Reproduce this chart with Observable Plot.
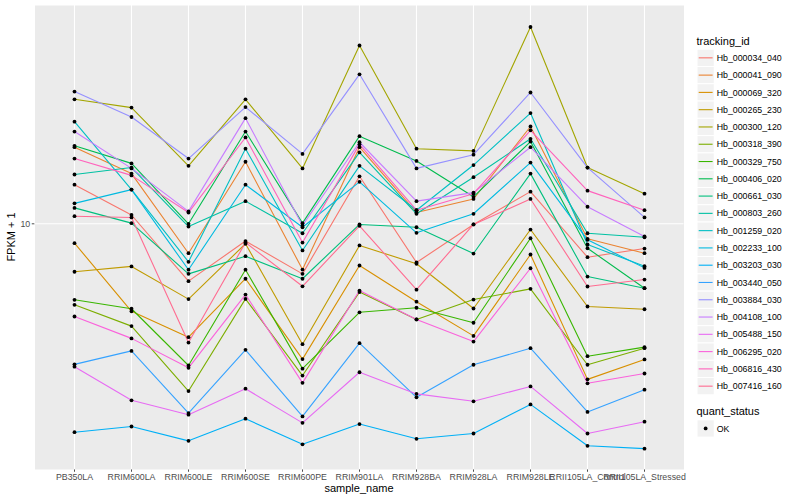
<!DOCTYPE html>
<html><head><meta charset="utf-8">
<script src="https://cdn.jsdelivr.net/npm/d3@7"></script>
<script src="https://cdn.jsdelivr.net/npm/@observablehq/plot@0.6"></script>
<style>
body{margin:0;background:#fff;font-family:"Liberation Sans",Arial,sans-serif;}
#wrap{position:relative;width:800px;height:500px;overflow:hidden;}
#chart{position:absolute;left:0;top:0;}
#legend{position:absolute;left:690px;top:0;}
</style></head><body>
<div id="wrap"><div id="chart"></div><div id="legend"></div></div>
<script>
const samples = ["PB350LA","RRIM600LA","RRIM600LE","RRIM600SE","RRIM600PE","RRIM901LA","RRIM928BA","RRIM928LA","RRIM928LE","RRII105LA_Control","RRII105LA_Stressed"];
const trackingIds = ["Hb_000034_040","Hb_000041_090","Hb_000069_320","Hb_000265_230","Hb_000300_120","Hb_000318_390","Hb_000329_750","Hb_000406_020","Hb_000661_030","Hb_000803_260","Hb_001259_020","Hb_002233_100","Hb_003203_030","Hb_003440_050","Hb_003884_030","Hb_004108_100","Hb_005488_150","Hb_006295_020","Hb_006816_430","Hb_007416_160"];
const colors = ["#F8766D","#EA8331","#D89000","#C09B00","#A3A500","#7CAE00","#39B600","#00BB4E","#00BF7D","#00C1A3","#00BFC4","#00BAE0","#00B0F6","#35A2FF","#9590FF","#C77CFF","#E76BF3","#FA62DB","#FF62BC","#FF6C91"];

// FPKM + 1 per sample (same order as samples)
const Hb_000034_040 = [13.5, 10.7, 6.44, 8.76, 6.81, 14.4, 7.43, 9.95, 12.8, 7.74, 8.27];
const Hb_000041_090 = [18.0, 14.7, 7.98, 16.1, 7.04, 18.0, 10.9, 12.1, 21.1, 8.91, 7.98];
const Hb_000069_320 = [8.62, 5.11, 4.19, 6.56, 3.54, 7.26, 5.50, 4.23, 7.90, 3.03, 3.53];
const Hb_000265_230 = [6.92, 7.21, 5.61, 8.58, 3.97, 8.47, 7.36, 5.22, 9.57, 5.30, 5.19];
const Hb_000300_120 = [26.0, 24.4, 15.6, 26.0, 15.3, 39.3, 17.8, 17.5, 45.3, 15.4, 12.6];
const Hb_000318_390 = [5.37, 4.56, 2.77, 5.62, 3.12, 5.92, 4.80, 5.59, 6.07, 3.39, 3.85];
const Hb_000329_750 = [5.58, 5.21, 3.37, 7.03, 3.29, 5.07, 5.25, 4.68, 8.95, 3.62, 3.88];
const Hb_000406_020 = [18.2, 15.9, 10.0, 20.3, 10.05, 19.6, 16.2, 12.3, 18.8, 8.29, 6.10];
const Hb_000661_030 = [11.3, 10.05, 6.81, 7.80, 6.56, 9.95, 9.74, 7.96, 14.7, 6.67, 6.10];
const Hb_000803_260 = [14.6, 15.4, 9.79, 11.9, 9.30, 17.3, 10.8, 14.3, 19.2, 9.30, 9.02];
const Hb_001259_020 = [21.9, 13.0, 7.47, 17.8, 8.15, 15.6, 11.1, 15.7, 23.4, 8.53, 7.22];
const Hb_002233_100 = [11.7, 13.0, 7.03, 13.5, 9.74, 13.8, 9.33, 10.8, 16.0, 8.84, 7.13];
const Hb_003203_030 = [2.02, 2.11, 1.89, 2.24, 1.84, 2.15, 1.92, 2.00, 2.50, 1.82, 1.78];
const Hb_003440_050 = [3.40, 3.77, 2.34, 3.80, 2.28, 4.00, 2.64, 3.39, 3.85, 2.36, 2.80];
const Hb_003884_030 = [27.6, 22.7, 16.5, 24.5, 17.1, 31.5, 15.3, 17.0, 27.4, 15.4, 10.5];
const Hb_004108_100 = [20.3, 15.3, 11.0, 22.5, 9.87, 18.7, 11.9, 12.7, 18.0, 11.4, 9.07];
const Hb_005488_150 = [3.34, 2.58, 2.31, 2.82, 2.17, 3.20, 2.71, 2.56, 2.87, 2.00, 2.19];
const Hb_006295_020 = [4.91, 4.15, 3.31, 5.81, 2.95, 5.99, 4.80, 4.05, 7.11, 2.94, 3.17];
const Hb_006816_430 = [16.5, 14.5, 10.9, 19.4, 8.66, 18.4, 11.1, 12.6, 20.5, 12.9, 11.1];
const Hb_007416_160 = [10.6, 10.5, 4.02, 8.66, 6.19, 9.85, 6.03, 9.95, 12.1, 6.18, 6.52];

const yTicks = [10];
const series = [Hb_000034_040,Hb_000041_090,Hb_000069_320,Hb_000265_230,Hb_000300_120,Hb_000318_390,Hb_000329_750,Hb_000406_020,Hb_000661_030,Hb_000803_260,Hb_001259_020,Hb_002233_100,Hb_003203_030,Hb_003440_050,Hb_003884_030,Hb_004108_100,Hb_005488_150,Hb_006295_020,Hb_006816_430,Hb_007416_160];

const data = [];
trackingIds.forEach((id, i) => series[i].forEach((v, j) => data.push({tracking_id: id, sample_name: samples[j], fpkm: v, quant_status: "OK"})));

const font = "'Liberation Sans', Arial, Helvetica, sans-serif";
const chart = Plot.plot({
  width: 690, height: 500,
  marginLeft: 34.5, marginRight: 6.5, marginTop: 5, marginBottom: 31,
  style: {fontFamily: font, fontSize: "8.8px", color: "#4D4D4D", background: "#fff", overflow: "visible"},
  x: {type: "point", domain: samples, padding: 0.6, label: null, tickSize: 2.75, tickPadding: 1.5},
  y: {type: "log", domain: [1.517, 53.42], ticks: yTicks, tickFormat: d => String(d), label: null, tickSize: 2.75, tickPadding: 2},
  color: {domain: trackingIds, range: colors},
  marks: [
    Plot.frame({fill: "#EBEBEB", stroke: null}),
    Plot.gridX(samples, {stroke: "#fff", strokeOpacity: 1, strokeWidth: 1.1}),
    Plot.gridY(yTicks, {stroke: "#fff", strokeOpacity: 1, strokeWidth: 1.1}),
    Plot.line(data, {x: "sample_name", y: "fpkm", z: "tracking_id", stroke: "tracking_id", strokeWidth: 1.1}),
    Plot.dot(data, {x: "sample_name", y: "fpkm", fill: "#000", stroke: null, r: 1.9})
  ]
});
document.getElementById("chart").appendChild(chart);

const svg = d3.select(chart);
svg.append("text").attr("x", 359).attr("y", 492).attr("text-anchor", "middle")
  .attr("font-family", font).attr("font-size", 11).attr("fill", "#000").text("sample_name");
svg.append("text").attr("transform", "translate(15,237) rotate(-90)").attr("text-anchor", "middle")
  .attr("font-family", font).attr("font-size", 11).attr("fill", "#000").text("FPKM + 1");

// Legend
const leg = d3.select("#legend").append("svg").attr("width", 110).attr("height", 500)
  .attr("font-family", font);
leg.append("text").attr("x", 6.5).attr("y", 44.5).attr("font-size", 11).attr("fill", "#000").text("tracking_id");
const step = 17.28, top0 = 49.2;
trackingIds.forEach((id, i) => {
  const y = top0 + i * step;
  leg.append("rect").attr("x", 7).attr("y", y).attr("width", step).attr("height", step)
    .attr("fill", "#F2F2F2").attr("stroke", "#fff").attr("stroke-width", 1);
  leg.append("line").attr("x1", 8.7).attr("x2", 22.6).attr("y1", y + step / 2).attr("y2", y + step / 2)
    .attr("stroke", colors[i]).attr("stroke-width", 1.1);
  leg.append("text").attr("x", 26.7).attr("y", y + step / 2 + 3.1).attr("font-size", 8.8).attr("fill", "#000").text(id);
});
leg.append("text").attr("x", 6.5).attr("y", 415).attr("font-size", 11).attr("fill", "#000").text("quant_status");
leg.append("rect").attr("x", 7).attr("y", 419.8).attr("width", step).attr("height", step)
  .attr("fill", "#F2F2F2").attr("stroke", "#fff");
leg.append("circle").attr("cx", 7 + step / 2).attr("cy", 419.8 + step / 2).attr("r", 1.9).attr("fill", "#000");
leg.append("text").attr("x", 26.7).attr("y", 419.8 + step / 2 + 3.1).attr("font-size", 8.8).attr("fill", "#000").text("OK");
</script>
</body></html>
